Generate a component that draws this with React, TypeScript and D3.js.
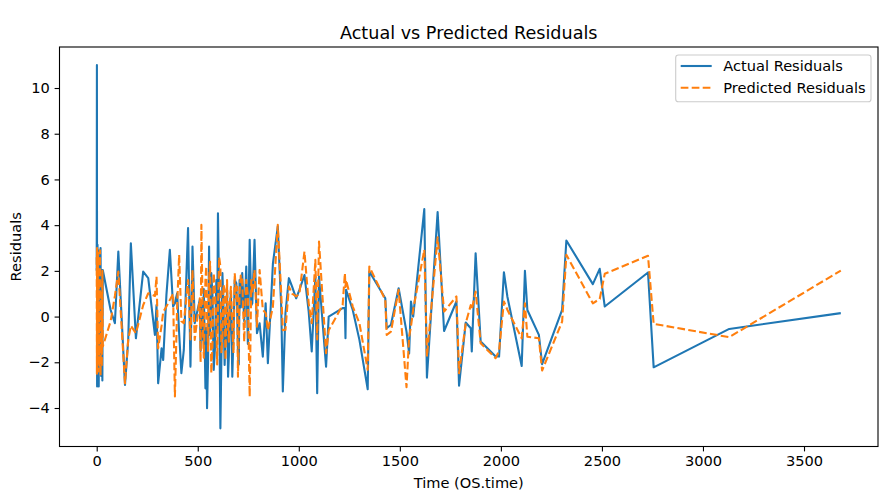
import React, { useEffect, useRef } from 'react';
import * as d3 from 'd3';

// OS.time values (shared by both series)
const times = [
  0, 1, 2, 4, 6, 8, 10, 13, 16, 19, 22, 25, 28, 30, 69, 90, 107, 140, 156, 169, 194, 230, 255, 288, 296,
  304, 321, 329, 345, 362, 378, 387, 398, 408, 419, 431, 452, 464, 474, 485, 510, 514, 518, 526, 530,
  538, 542, 546, 551, 556, 561, 567, 573, 579, 585, 592, 596, 600, 606, 612, 617, 622, 627, 633, 637,
  641, 645, 650, 654, 658, 664, 671, 677, 683, 691, 695, 699, 703, 707, 713, 720, 730, 740, 748, 757,
  765, 770, 781, 793, 806, 822, 836, 847, 872, 896, 913, 921, 934, 951, 967, 987, 1003, 1028, 1049,
  1064, 1082, 1091, 1100, 1135, 1148, 1217, 1228, 1231, 1234, 1267, 1300, 1341, 1349, 1428, 1435, 1456,
  1494, 1533, 1546, 1555, 1566, 1621, 1634, 1687, 1719, 1780, 1793, 1826, 1851, 1856, 1875, 1900, 1974,
  1991, 2015, 2032, 2103, 2119, 2131, 2188, 2204, 2303, 2324, 2455, 2489, 2514, 2728, 2756, 3130, 3682,
];

const actual = [
  2.0, 11.0, -3.06, 3.14, -2.6, 2.9, -3.06, 2.6, -1.2, 3.0, -2.6, 2.0, -2.8, 2.04, 0.29, -0.29, 2.85,
  -2.99, -1.02, 3.21, -0.95, 1.97, 1.68, -0.8, 0.5, -2.92, -1.39, -1.9, 0.95, 2.92, 0.44, 0.58, 1.02,
  -0.73, -2.48, -1.46, 3.87, -2.19, 3.06, -0.29, 0.73, -1.5, 0.5, -1.02, 1.2, -3.14, -0.5, -4.01, -2.0,
  3.06, -0.8, 1.9, 0.9, -2.33, -1.4, 1.6, -0.6, 4.52, 0.8, -4.89, -1.8, 1.9, 0.6, -2.12, -0.9, -1.02,
  1.3, -2.63, -1.7, 0.0, 1.1, -2.63, -0.7, 1.6, 1.46, 0.3, -1.6, -2.1, 1.6, 0.4, 1.9, -0.2, 2.19, -1.2,
  3.36, 0.5, 0.58, 3.36, -0.73, -0.29, -1.75, 0.58, -2.04, 2.33, 3.94, 0.44, -3.28, 0.15, 1.68, 1.31,
  0.8, 1.17, 1.82, 0.22, -1.53, 1.75, -3.35, 1.75, -2.19, 0.0, 0.37, 0.37, -0.95, 1.17, 0.29, -1.02,
  -3.18, 1.97, 0.8, -0.51, -0.36, 1.24, -0.66, -1.61, 0.66, 0.0, 4.7, -2.67, 4.57, -0.63, 0.66, -3.02,
  -0.26, -0.51, -1.53, 2.77, -1.09, -1.75, -1.75, 1.94, 0.88, -2.16, 2.0, 0.29, -0.8, -2.08, 0.29, 3.33,
  1.42, 2.09, 0.44, 1.93, -2.22, -0.54, 0.15,
];

const predicted = [
  2.6, -2.5, 3.0, -1.8, 2.8, -2.4, 1.4, -2.2, 2.9, -2.6, 1.0, -2.2, 2.0, -1.31, -0.2, 0.9, 1.97, -2.92,
  -1.0, -0.4, -0.73, 0.5, 1.02, 0.9, 1.75, -1.39, -0.4, 0.2, 0.44, 0.73, 1.0, -3.5, 0.44, 2.7, -0.2,
  -0.29, 1.6, -1.0, 2.04, -1.02, 0.8, -2.0, 4.01, -0.73, -1.8, 1.6, 2.2, 0.0, -1.5, 1.6, 2.4, -2.48,
  -1.2, 1.9, 1.1, -0.29, -2.1, 0.3, 2.6, 2.19, -1.6, -1.02, 1.4, 1.17, -1.9, 0.0, 1.6, -0.44, -1.1, 0.5,
  1.3, -0.44, -1.6, 1.9, 0.8, 1.3, -2.63, -1.0, 1.02, 1.8, 1.6, -1.1, 1.6, 0.9, -3.5, 1.6, 1.0, 2.04,
  -0.44, 2.04, 0.3, 0.15, -0.6, 0.44, 4.01, 1.02, -0.6, -0.58, 1.31, 1.0, 0.88, 1.0, 2.84, 0.58, -0.29,
  2.48, -1.0, 3.28, -1.6, -0.6, 0.5, 1.9, 1.3, 1.6, 0.44, -0.29, -2.33, 2.19, 0.73, -0.8, -0.66, 1.17,
  -3.09, -0.88, -0.44, 0.3, 2.92, -1.75, 3.47, 0.22, 0.88, -2.48, -0.29, 0.5, 0.3, 1.09, -1.17, -1.82,
  -1.5, 0.66, 0.3, -0.95, 0.58, -0.88, -0.95, -2.36, -0.22, 2.7, 0.58, 0.77, 1.87, 2.66, -0.32, -0.9,
  2.01,
];

const xTicks = [0, 500, 1000, 1500, 2000, 2500, 3000, 3500];
const yTicks = [-4, -2, 0, 2, 4, 6, 8, 10];

const seriesNames = ['Actual Residuals', 'Predicted Residuals'];
const seriesColors = ['#1f77b4', '#ff7f0e'];

const App = () => {
  const svgRef = useRef<SVGSVGElement>(null);

  useEffect(() => {
    const svg = d3.select(svgRef.current);
    svg.selectAll('*').remove();

    const width = 881;
    const height = 493;
    const left = 59.5;
    const right = 878;
    const top = 47;
    const bottom = 446.5;
    const font = 'DejaVu Sans, sans-serif';
    const fs = '14.6px';

    // matplotlib-like 5% margins
    const [x0, x1] = d3.extent(times) as [number, number];
    const allY = actual.concat(predicted);
    const [y0, y1] = d3.extent(allY) as [number, number];
    const xPad = (x1 - x0) * 0.05;
    const yPad = (y1 - y0) * 0.05;

    const xScale = d3.scaleLinear().domain([x0 - xPad, x1 + xPad]).range([left, right]);
    const yScale = d3.scaleLinear().domain([y0 - yPad, y1 + yPad]).range([bottom, top]);

    svg.attr('width', width).attr('height', height);
    svg.append('rect').attr('width', width).attr('height', height).attr('fill', '#fff');

    const clip = svg.append('clipPath').attr('id', 'plot-clip');
    clip.append('rect').attr('x', left).attr('y', top).attr('width', right - left).attr('height', bottom - top);

    const fmt = (v: number) => (v < 0 ? '\u2212' + Math.abs(v) : String(v));

    // X axis
    const xAxis = svg
      .append('g')
      .attr('transform', `translate(0,${bottom})`)
      .call(d3.axisBottom(xScale).tickValues(xTicks).tickSize(4.9).tickPadding(4.6).tickFormat(d => fmt(+d)));
    xAxis.select('.domain').remove();

    // Y axis
    const yAxis = svg
      .append('g')
      .attr('transform', `translate(${left},0)`)
      .call(d3.axisLeft(yScale).tickValues(yTicks).tickSize(4.9).tickPadding(4.9).tickFormat(d => fmt(+d)));
    yAxis.select('.domain').remove();

    [xAxis, yAxis].forEach(g => {
      g.selectAll('line').attr('stroke', '#000').attr('stroke-width', 1.1);
      g.selectAll('text').attr('fill', '#000').style('font-family', font).style('font-size', fs);
    });

    // lines
    const seriesData = [actual, predicted];
    const line = d3
      .line<number>()
      .x((d, i) => xScale(times[i]))
      .y(d => yScale(d));

    seriesData.forEach((vals, k) => {
      svg
        .append('path')
        .attr('clip-path', 'url(#plot-clip)')
        .attr('d', line(vals))
        .attr('fill', 'none')
        .attr('stroke', seriesColors[k])
        .attr('stroke-width', 2.1)
        .attr('stroke-linejoin', 'round')
        .attr('stroke-dasharray', k === 1 ? '7.7,3.3' : null);
    });

    // frame
    svg
      .append('rect')
      .attr('x', left)
      .attr('y', top)
      .attr('width', right - left)
      .attr('height', bottom - top)
      .attr('fill', 'none')
      .attr('stroke', '#000')
      .attr('stroke-width', 1.1);

    // title & labels
    svg
      .append('text')
      .attr('x', (left + right) / 2)
      .attr('y', 38.5)
      .attr('text-anchor', 'middle')
      .style('font-family', font)
      .style('font-size', '17.6px')
      .text('Actual vs Predicted Residuals');

    svg
      .append('text')
      .attr('x', (left + right) / 2)
      .attr('y', 488)
      .attr('text-anchor', 'middle')
      .style('font-family', font)
      .style('font-size', fs)
      .text('Time (OS.time)');

    svg
      .append('text')
      .attr('transform', `translate(21,${(top + bottom) / 2}) rotate(-90)`)
      .attr('text-anchor', 'middle')
      .style('font-family', font)
      .style('font-size', fs)
      .text('Residuals');

    // legend
    const legend = svg.append('g');
    legend
      .append('rect')
      .attr('x', 675.7)
      .attr('y', 55)
      .attr('width', 195.3)
      .attr('height', 46.7)
      .attr('rx', 2.8)
      .attr('fill', 'rgba(255,255,255,0.8)')
      .attr('stroke', '#cccccc')
      .attr('stroke-width', 1.1);

    const items = legend
      .selectAll('.legend-item')
      .data(seriesNames)
      .enter()
      .append('g')
      .attr('class', 'legend-item')
      .attr('transform', (d, i) => `translate(0,${66 + i * 21.7})`);

    items
      .append('line')
      .attr('x1', 680.7)
      .attr('x2', 711.7)
      .attr('y1', 0)
      .attr('y2', 0)
      .attr('stroke', (d, i) => seriesColors[i])
      .attr('stroke-width', 2.1)
      .attr('stroke-dasharray', (d, i) => (i === 1 ? '7.7,3.3' : null));

    items
      .append('text')
      .attr('x', 723.3)
      .attr('y', 5.2)
      .style('font-family', font)
      .style('font-size', fs)
      .text(d => d);

    return () => {
      svg.selectAll('*').remove();
    };
  }, []);

  return (
    <svg ref={svgRef} style={{ position: 'absolute', left: 0, top: 0, display: 'block' }}></svg>
  );
};

export default App;
